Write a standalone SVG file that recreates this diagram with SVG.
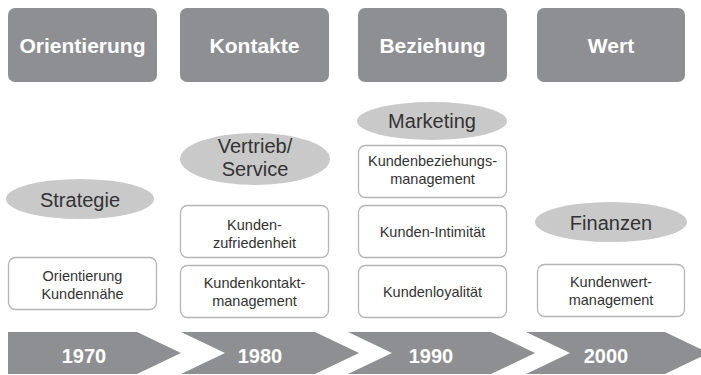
<svg xmlns="http://www.w3.org/2000/svg" width="701" height="375" viewBox="0 0 701 375">
  <style>
    .hdr { fill: #8e8f93; }
    .hdr-t { font-family: "Liberation Sans", Arial, sans-serif; font-weight: bold; font-size: 21px; fill: #ffffff; text-anchor: middle; }
    .ell { fill: #c9c9c9; }
    .ell-t { font-family: "Liberation Sans", Arial, sans-serif; font-size: 20px; fill: #333333; text-anchor: middle; }
    .box { fill: #ffffff; stroke: #b4b4b4; stroke-width: 1.3; }
    .box-t { font-family: "Liberation Sans", Arial, sans-serif; font-size: 14.5px; fill: #333333; text-anchor: middle; }
    .chev { fill: #8e8f93; }
    .chev-t { font-family: "Liberation Sans", Arial, sans-serif; font-weight: bold; font-size: 20px; fill: #ffffff; text-anchor: middle; }
  </style>

  <rect width="701" height="375" fill="#ffffff"/>

  <!-- column headers -->
  <g id="hdr-orientierung">
    <rect class="hdr" x="8" y="8" width="149" height="74" rx="7"/>
    <text class="hdr-t" x="82.5" y="53">Orientierung</text>
  </g>
  <g id="hdr-kontakte">
    <rect class="hdr" x="180" y="8" width="149" height="74" rx="7"/>
    <text class="hdr-t" x="254.5" y="53">Kontakte</text>
  </g>
  <g id="hdr-beziehung">
    <rect class="hdr" x="358" y="8" width="149" height="74" rx="7"/>
    <text class="hdr-t" x="432.5" y="53">Beziehung</text>
  </g>
  <g id="hdr-wert">
    <rect class="hdr" x="537" y="8" width="148" height="74" rx="7"/>
    <text class="hdr-t" x="611" y="53">Wert</text>
  </g>

  <!-- focus ellipses -->
  <g id="ell-strategie">
    <ellipse class="ell" cx="80" cy="199" rx="74" ry="20"/>
    <text class="ell-t" x="80" y="207">Strategie</text>
  </g>
  <g id="ell-vertrieb">
    <ellipse class="ell" cx="255" cy="159" rx="75" ry="26"/>
    <text class="ell-t" x="255" y="153">Vertrieb/</text>
    <text class="ell-t" x="255" y="176">Service</text>
  </g>
  <g id="ell-marketing">
    <ellipse class="ell" cx="432" cy="121" rx="75" ry="19"/>
    <text class="ell-t" x="432" y="128">Marketing</text>
  </g>
  <g id="ell-finanzen">
    <ellipse class="ell" cx="611" cy="222" rx="76" ry="20"/>
    <text class="ell-t" x="611" y="230">Finanzen</text>
  </g>

  <!-- content boxes -->
  <g id="box-kundennaehe">
    <rect class="box" x="8.5" y="257.5" width="148" height="52" rx="7"/>
    <text class="box-t" x="82.5" y="281">Orientierung</text>
    <text class="box-t" x="82.5" y="299">Kundennähe</text>
  </g>
  <g id="box-zufriedenheit">
    <rect class="box" x="180.5" y="205.5" width="148" height="52" rx="7"/>
    <text class="box-t" x="254.5" y="230">Kunden-</text>
    <text class="box-t" x="254.5" y="248">zufriedenheit</text>
  </g>
  <g id="box-kundenkontakt">
    <rect class="box" x="180.5" y="265.5" width="148" height="52" rx="7"/>
    <text class="box-t" x="254.5" y="288">Kundenkontakt-</text>
    <text class="box-t" x="254.5" y="306">management</text>
  </g>
  <g id="box-kundenbeziehung">
    <rect class="box" x="358.5" y="145.5" width="148" height="52" rx="7"/>
    <text class="box-t" x="432.5" y="166">Kundenbeziehungs-</text>
    <text class="box-t" x="432.5" y="184">management</text>
  </g>
  <g id="box-intimitaet">
    <rect class="box" x="358.5" y="205.5" width="148" height="52" rx="7"/>
    <text class="box-t" x="432.5" y="237">Kunden-Intimität</text>
  </g>
  <g id="box-loyalitaet">
    <rect class="box" x="358.5" y="265.5" width="148" height="52" rx="7"/>
    <text class="box-t" x="432.5" y="297">Kundenloyalität</text>
  </g>
  <g id="box-kundenwert">
    <rect class="box" x="537.5" y="264.5" width="147" height="52" rx="7"/>
    <text class="box-t" x="611" y="287">Kundenwert-</text>
    <text class="box-t" x="611" y="305">management</text>
  </g>

  <!-- timeline chevrons -->
  <g id="chev-1970">
    <polygon class="chev" points="8,332 137,332 181,353 137,374 8,374"/>
    <text class="chev-t" x="84" y="363">1970</text>
  </g>
  <g id="chev-1980">
    <polygon class="chev" points="181,332 315,332 359,353 315,374 181,374 225,353"/>
    <text class="chev-t" x="260" y="363">1980</text>
  </g>
  <g id="chev-1990">
    <polygon class="chev" points="348,332 491,332 535,353 491,374 348,374 392,353"/>
    <text class="chev-t" x="431" y="363">1990</text>
  </g>
  <g id="chev-2000">
    <polygon class="chev" points="526,332 665,332 709,353 665,374 526,374 570,353"/>
    <text class="chev-t" x="606" y="363">2000</text>
  </g>
</svg>
